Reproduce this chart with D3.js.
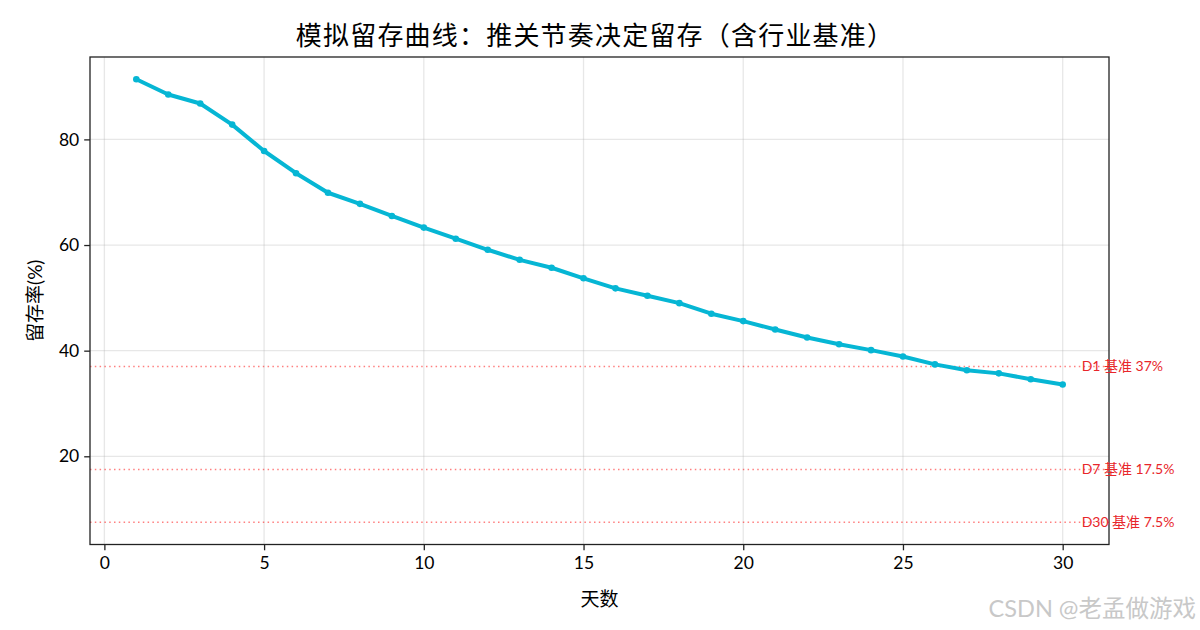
<!DOCTYPE html>
<html><head><meta charset="utf-8">
<script src="https://cdn.jsdelivr.net/npm/d3@7"></script>
<style>
body{margin:0;background:#fff;}
text{font-family:Lato,"Noto Sans CJK SC",sans-serif;}
</style></head>
<body><svg id="c" width="1200" height="630"></svg>
<script>
const days = d3.range(1, 31);
const retention = [91.4,88.5,86.8,82.8,77.8,73.6,69.9,67.8,65.5,63.3,61.2,59.1,57.2,55.7,53.7,51.8,50.4,49.0,47.0,45.6,44.0,42.5,41.2,40.1,38.9,37.4,36.3,35.7,34.6,33.6];
const benchValues = [37, 17.5, 7.5];
const benchLabels = ["D1 基准 37%", "D7 基准 17.5%", "D30 基准 7.5%"];
const xTicks = [0,5,10,15,20,25,30];
const yTicks = [20,40,60,80];
const titleText = "模拟留存曲线：推关节奏决定留存（含行业基准）";
const xLabel = "天数";
const yLabel = "留存率(%)";
const watermark = "CSDN @老孟做游戏";

const svg = d3.select("#c");
const L=90, R=1109, T=57, B=544.5;
const x = d3.scaleLinear().domain([-0.45, 31.45]).range([L, R]);
const y = d3.scaleLinear().domain([3.3, 95.6]).range([B, T]);

// grid
const g = svg.append("g");
g.selectAll(".gx").data(xTicks).enter().append("line")
  .attr("x1",d=>x(d)).attr("x2",d=>x(d)).attr("y1",T).attr("y2",B)
  .attr("stroke","#b0b0b0").attr("stroke-opacity",0.3).attr("stroke-width",1.3);
g.selectAll(".gy").data(yTicks).enter().append("line")
  .attr("y1",d=>y(d)).attr("y2",d=>y(d)).attr("x1",L).attr("x2",R)
  .attr("stroke","#b0b0b0").attr("stroke-opacity",0.3).attr("stroke-width",1.3);

// benchmark lines
svg.selectAll(".bl").data(benchValues).enter().append("line")
  .attr("x1",L).attr("x2",R).attr("y1",d=>y(d)).attr("y2",d=>y(d))
  .attr("stroke","red").attr("stroke-opacity",0.5).attr("stroke-width",1.5)
  .attr("stroke-dasharray","1.5,3.3");

// line
const line = d3.line().x((d,i)=>x(days[i])).y(d=>y(d));
svg.append("path").datum(retention).attr("d",line)
  .attr("fill","none").attr("stroke","#06b6d4").attr("stroke-width",4)
  .attr("stroke-linejoin","round").attr("stroke-linecap","round");
svg.selectAll(".pt").data(retention).enter().append("circle")
  .attr("cx",(d,i)=>x(days[i])).attr("cy",d=>y(d)).attr("r",3.3)
  .attr("fill","#06b6d4");

// spines
svg.append("rect").attr("x",L).attr("y",T).attr("width",R-L).attr("height",B-T)
  .attr("fill","none").attr("stroke","#222").attr("stroke-width",1.3);

// axes
const xa = svg.append("g").attr("transform",`translate(0,${B})`)
  .call(d3.axisBottom(x).tickValues(xTicks).tickSize(5.8).tickPadding(6).tickFormat(d3.format("d")));
const ya = svg.append("g").attr("transform",`translate(${L},0)`)
  .call(d3.axisLeft(y).tickValues(yTicks).tickSize(5.8).tickPadding(5).tickFormat(d3.format("d")));
[xa,ya].forEach(a=>{
  a.select(".domain").remove();
  a.selectAll(".tick line").attr("stroke","#222").attr("stroke-width",1.3);
  a.selectAll(".tick text").attr("fill","#000").style("font-size","17.5px");
});

// benchmark labels
svg.selectAll(".bt").data(benchValues).enter().append("text")
  .attr("x",x(30.5)+3).attr("y",d=>y(d)).attr("dy","0.35em")
  .attr("fill","#e8262b").style("font-size","14px")
  .text((d,i)=>benchLabels[i]);

// labels
svg.append("text").attr("x",595).attr("y",45).attr("text-anchor","middle")
  .style("font-size","26px").style("letter-spacing","1.2px").attr("fill","#000").text(titleText);
svg.append("text").attr("x",(L+R)/2).attr("y",606).attr("text-anchor","middle")
  .style("font-size","19px").attr("fill","#000").text(xLabel);
svg.append("text").attr("transform",`translate(42,${(T+B)/2}) rotate(-90)`).attr("text-anchor","middle")
  .style("font-size","19px").attr("fill","#000").text(yLabel);
svg.append("text").attr("x",1196).attr("y",617).attr("text-anchor","end")
  .style("font-size","23.5px").attr("fill","#c8c8c8").attr("font-family","Arial,'Noto Sans CJK SC',sans-serif").text(watermark);
</script></body></html>
